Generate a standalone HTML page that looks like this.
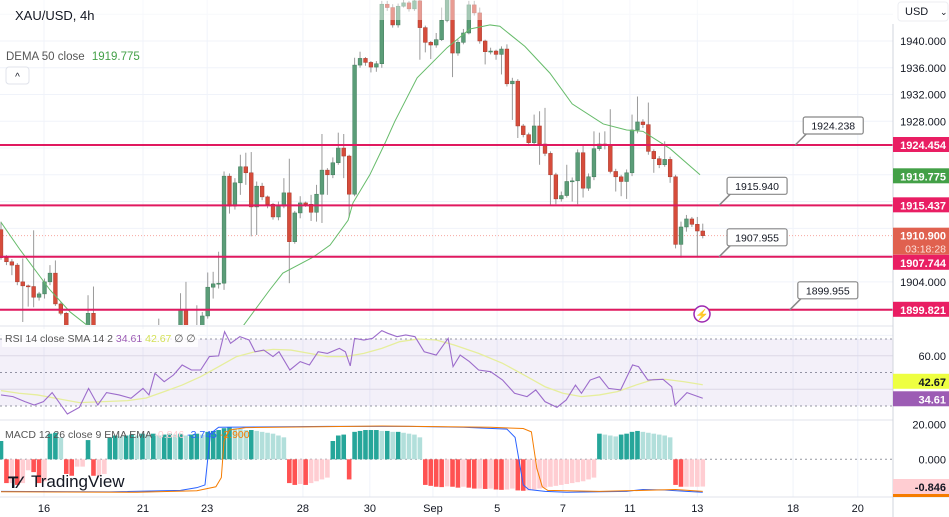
<!DOCTYPE html>
<html><head><meta charset="utf-8"><style>
html,body{margin:0;padding:0;background:#fff;overflow:hidden}
svg{display:block;font-family:"Liberation Sans",sans-serif}
</style></head><body>
<svg id="chart" width="949" height="517" viewBox="0 0 949 517" xmlns="http://www.w3.org/2000/svg">
<defs>
<clipPath id="cMain"><rect x="0" y="0" width="893" height="325"/></clipPath>
<clipPath id="cRsi"><rect x="0" y="327" width="893" height="92"/></clipPath>
<clipPath id="cMacd"><rect x="0" y="421" width="893" height="75"/></clipPath>
</defs>
<g id="grid"></g>
<rect x="0" y="339" width="893" height="67" fill="#7e57c2" fill-opacity="0.09"/>
<g id="main" clip-path="url(#cMain)"></g>
<g id="rsi" clip-path="url(#cRsi)"></g>
<g id="macd" clip-path="url(#cMacd)"></g>
<rect x="0" y="0" width="893" height="20" fill="#fff" fill-opacity="0.45"/>
<line x1="0" y1="326" x2="949" y2="326" stroke="#e0e3eb"/>
<line x1="0" y1="420" x2="949" y2="420" stroke="#e0e3eb"/>
<line x1="0" y1="497" x2="949" y2="497" stroke="#e0e3eb"/>
<rect x="893" y="0" width="56" height="497" fill="#fff"/>
<line x1="893" y1="24" x2="893" y2="517" stroke="#d1d4dc"/>
<g id="axis"></g>
<g id="callouts"></g>
<text x="15" y="20" font-size="13" fill="#131722">XAU/USD, 4h</text>
<text x="6" y="60" font-size="11.5" fill="#555">DEMA 50 close <tspan fill="#43a047" dx="4">1919.775</tspan></text>
<rect x="6" y="67" width="23" height="17" rx="3" fill="#fff" stroke="#e0e3eb"/>
<text x="17.5" y="80" font-size="10" text-anchor="middle" fill="#131722">^</text>
<rect x="2" y="329" width="196" height="18" fill="#fff" fill-opacity="0.8"/>
<text x="5" y="342" font-size="10.5" fill="#555">RSI 14 close SMA 14 2 <tspan fill="#9c5cb4">34.61</tspan> <tspan fill="#d4e157">42.67</tspan> ∅ ∅</text>
<text x="5" y="438" font-size="10.5" fill="#555">MACD 12 26 close 9 EMA EMA <tspan fill="#ffcdd2">-0.846</tspan> <tspan fill="#2962ff">-3.745</tspan> <tspan fill="#f57c00">-2.900</tspan></text>
<g>
<text x="8" y="488" font-size="17" font-weight="bold" fill="#131722">T⁄</text>
<text x="31" y="487" font-size="17" fill="#131722">TradingView</text>
</g>
<rect x="898" y="2" width="50" height="19" rx="3" fill="#fff" stroke="#eceef2"/>
<text x="905" y="15" font-size="11" fill="#131722">USD</text>
<text x="940" y="15" font-size="9" fill="#131722">⌄</text>
<g>
<circle cx="702" cy="314" r="8" fill="#fff" stroke="#9c27b0" stroke-width="1.5"/>
<text x="702" y="318.5" font-size="11" text-anchor="middle" fill="#9c27b0">⚡</text>
</g>
<g id="time"></g>
</svg>
<script>
const closes=[1907.6,1907.0,1906.5,1904.0,1903.4,1903.3,1901.7,1902.2,1904.0,1905.3,
1900.7,1899.3,1896.0,1894.0,1895.5,1896.5,1899.3,1895.5,1893,1891,
1890,1892,1891,1893,1892,1894,1893,1895,1894,1895,
1894,1895,1896,1899.8,1896.5,1895,1896.5,1898.9,1903.2,1903.7,
1903.8,1919.8,1915.3,1918.8,1921.2,1920.3,1915.2,1918.3,1916.7,1915.6,
1913.7,1915.3,1917.3,1910.0,1914.3,1915.8,1915.6,1914.4,1917.1,1920.7,
1920.0,1921.8,1924.0,1922.8,1917.1,1936.4,1937.4,1936.8,1936.1,1936.6,
1945.5,1945.0,1942.4,1945.2,1945.7,1944.8,1946.0,1942.0,1939.8,1939.4,
1940.2,1943.1,1946.5,1938.2,1939.8,1941.2,1945.4,1944.2,1940.0,1938.4,
1938.5,1938.0,1938.8,1933.6,1934.0,1927.3,1926.0,1924.8,1927.3,1924.6,
1923.2,1920.0,1916.4,1916.9,1919.0,1919.1,1923.3,1918.0,1919.7,1923.9,
1924.6,1924.4,1920.5,1919.7,1919.0,1920.3,1926.7,1927.9,1927.5,1923.5,
1922.4,1921.5,1922.3,1919.7,1909.6,1912.2,1913.4,1912.6,1911.6,1910.9];
const firstOpen=1911.8;
const highs=[1913,1908,1907.4,1906.8,1907.5,1903.6,1911.7,1902.5,1904.5,1906.5,
1907.2,1901,1899.5,1896.5,1896,1897,1902,1903.3,1896,1894,
1892,1893,1892.5,1894,1893.5,1895,1894.5,1896,1895.5,1898.5,
1895.5,1896,1897,1902.3,1904,1897,1900.5,1899.5,1905.4,1905.5,
1908.5,1920.5,1920.2,1919.5,1923,1923.3,1923.4,1919,1918.8,1916.9,
1915.8,1916,1919.5,1922.4,1914.6,1916.8,1916,1917,1918.5,1926.1,
1921,1922.6,1926.3,1926.1,1923,1937.5,1938.4,1937.6,1937,1937,
1946,1946,1945.5,1945.6,1946.2,1946,1946.5,1946.3,1942.3,1940,
1941.2,1945,1947,1946.6,1940.2,1941.8,1946,1946,1945,1940.2,
1939,1938.7,1939.2,1939.5,1934.5,1934.3,1927.6,1926.3,1929,1929.5,
1930,1923.5,1920.3,1917.5,1921.5,1919.6,1923.8,1924.5,1920.2,1926.5,
1926.3,1926.5,1929.8,1920.9,1920,1920.8,1929,1931.7,1928.3,1930.8,
1923.8,1922.8,1925,1922.7,1920,1913,1914,1913.7,1913.7,1912.7];
const lows=[1907.3,1906.5,1905,1903.5,1898,1900.3,1900.2,1901.2,1901.5,1903.5,
1900.4,1899,1895,1893,1893,1894.5,1896,1895,1892,1890,
1889,1889.5,1890,1890.5,1891,1891.5,1892,1892.5,1893,1893.5,
1893,1893.5,1894.5,1895,1895,1894,1894,1896,1898.5,1901.5,
1903,1902.8,1914.2,1914.8,1917,1918.5,1910.8,1911,1916.2,1915,
1913.3,1913.2,1915,1903.8,1909.7,1913.5,1915.2,1913.1,1913,1912.8,
1917,1919.5,1921.5,1919.5,1913.6,1916.8,1936,1936.3,1935.3,1935.4,
1936,1944.5,1942,1942,1945,1944.4,1944.5,1937.2,1938.3,1937.3,
1939,1940,1942.8,1934.6,1937.8,1939.5,1941,1943.8,1939.6,1936.5,
1938,1937.2,1935,1933.2,1928.2,1925.5,1925.6,1924.3,1924.5,1921.5,
1922.8,1915.5,1915.6,1916,1916.6,1916,1915.6,1916.6,1917.6,1919.2,
1923.6,1923.8,1920.2,1917.5,1916.8,1916.4,1919.8,1926.2,1927,1923,
1920.3,1921,1921.2,1918.8,1909,1907.6,1911.5,1912.2,1907.8,1910.5];
const demaIdx=[0,3.5,9,12.7,16,22,35,44.5,49.4,51.8,57.4,60.5,63.8,64.7,67.8,70.6,72.4,76.5,82,86.2,89.9,91.7,96.3,100.9,105,110.7,115,118,123,128.5];
const demaVal=[1912.9,1908.8,1902.8,1899.5,1897.4,1894,1894,1897.4,1902.8,1905.3,1907.7,1909.5,1913.2,1915.8,1920,1924.75,1928,1934.5,1939,1941.8,1942.4,1942.2,1939.2,1935.2,1930.6,1927.6,1926.7,1926.5,1923.9,1920];
const levels=[1924.454,1915.437,1907.744,1899.821];
const levelLabelShift=[0,0,6,0];
const calloutVals=[1924.238,1915.940,1907.955,1899.955];
const calloutIdx=[146,132,132,145];
const priceTicks=[1940,1936,1932,1928,1904];
const rsiIdx=[0,2.2,4.4,6.1,7.8,9.4,12.2,14.4,16.1,17.8,19.4,21.7,23.9,26.1,27.2,28.3,30,31.7,33.3,35,36.7,38.3,40,41.1,42.2,43.9,45.6,46.7,48.3,50,51.1,53.1,55,56.7,58.3,60,62.2,63.3,64.2,65,66.7,68.3,70,71.1,72.8,74.4,76.1,77.8,80,82.2,83.1,84.4,86.1,87.8,90,92.2,94.4,96.7,98.3,100,102.2,103.9,105.6,106.7,108.3,110,111.7,113.9,116.1,117.2,118.9,121.7,123.3,123.9,126.1,129];
const rsiVal=[36.6,35.6,32.6,30.6,32.6,38,25.2,29.2,40.5,30.6,38,36.6,34.6,40.5,36.6,49.5,44.5,48.5,54.5,51.5,51.5,59.5,59.9,74.4,67.4,71.4,69.4,62.4,63.4,59.5,62.4,51.5,56.5,54.5,62.4,61.4,64.4,62.4,53.9,70.4,69.4,70.4,75,73.4,71.4,72.4,71.4,62.4,60.4,70.4,53.5,60.4,56.5,51.5,50.5,45.5,37.6,35.6,39.6,32.6,29.2,33.6,42.5,37.6,45.5,47.5,40.5,39.6,54.5,53.5,45.5,45.9,41.5,30.6,38,34.61];
const smaIdx=[0,3.3,6.7,10,14.4,18.9,23.3,26.7,30,33.3,36.7,40,43.3,46.7,50,53.3,56.7,60,63.3,66.7,70,73.3,76.7,80,83.3,87.8,92.2,96.7,100,103.3,106.7,110,113.3,116.7,120,122.2,125.6,129];
const smaVal=[39.2,37.6,36.6,34.6,32,32.6,33.2,34.8,38.6,42.5,47.5,53.5,59.5,62.4,63.8,63.4,61.4,59.5,59.5,61.4,64.4,68.4,70,69.4,66.4,61.4,55.5,47.5,41.5,37.6,35.6,36.6,38.6,42.5,45.9,45.9,44.5,42.67];
const hist=[10,-13,-13,-14,-13,-6,-7,-13,-12,14,14.5,12,-8,-9,-4,-4,10.5,-9,-9,-8,
12,13,12.5,13,13.5,13,14,13.5,14,13,13.5,14,13.5,14,13,13.5,14,13.5,15,15.5,16,17,17.5,17,16.5,16,16,15.5,15,14.5,14,13,12,
-13,-14,-13.5,-14,-13,-12,-11,-10,10,13,13.5,-11,
15,15.5,16,16,16,15.5,15.5,15,15,14.5,14,13.5,12,
-14,-14.5,-15,-15.2,-14.8,-15,-15.5,-15,-15.5,-16,-16,-16.2,-16,-16.5,-16.7,-16.5,-16,-17,-17.2,-17,-16.5,-16,-15.5,-15,-14.5,-14,-13.5,-13,-12.5,-12,-11,-10,
14,13.5,13,12.5,13.5,14,15,15.5,15,14.5,14,13.5,13,12,
-14,-15,-15,-15,-15,-14.9];
const macdIdx=[0,20,33,36,37.5,38.5,40,60,75,85,93,94.5,96,97,100,104,115,118,122,126,129];
const macdVal=[-17.5,-17.8,-17,-15.5,-14,14,17.5,18,18,17.5,16.5,12,-14,-16.5,-17.5,-18,-17.5,-16.5,-16.8,-17.5,-18];
const sigIdx=[0,25,36,39.5,40.5,41,42,45,70,90,96,97.5,98.5,99.5,100.5,110,118,124,129];
const sigVal=[-17.7,-18,-17.2,-15,-10,10,16,17.3,18.2,17.5,16.8,15,-5,-15,-17,-17.5,-17,-16.5,-17.5];
const dateLabels=["16","21","23","28","30","Sep","5","7","11","13","18","20"];
const dateIdx=[7.9,26.1,37.9,55.5,67.8,79.4,91.2,103.3,115.6,128,145.6,157.5];

const NS="http://www.w3.org/2000/svg";
const xOf=i=>1+i*5.44;
const yP=p=>41+(1940-p)*6.69;
const yR=v=>339+(70-v)*1.675;
const yM=v=>459.3-v*1.83;
function mk(tag,parent,attrs){const e=document.createElementNS(NS,tag);for(const k in attrs)e.setAttribute(k,attrs[k]);parent.appendChild(e);return e;}
const G=document.getElementById('grid'),M=document.getElementById('main'),R=document.getElementById('rsi'),D=document.getElementById('macd'),A=document.getElementById('axis'),C=document.getElementById('callouts'),T=document.getElementById('time');

for(let p=1944;p>=1896;p-=4){const l=mk('line',G,{x1:0,x2:893,y1:yP(p),y2:yP(p),stroke:'#f0f3fa'});

}
dateIdx.forEach((d,k)=>{const l=mk('line',G,{x1:xOf(d),x2:xOf(d),y1:0,y2:497,stroke:'#f0f3fa'});


const t=mk('text',T,{x:xOf(d),y:512,'font-size':11,'text-anchor':'middle',fill:'#131722'});t.textContent=dateLabels[k];

});
[60,40].forEach(v=>{const l=mk('line',G,{x1:0,x2:893,y1:yR(v),y2:yR(v),stroke:'#e6e6ec'});

});
[70,50,30].forEach(v=>{const l=mk('line',G,{x1:0,x2:893,y1:yR(v),y2:yR(v),stroke:'#9598a1','stroke-dasharray':'2 3'});

});
{const l=mk('line',G,{x1:0,x2:893,y1:yM(0),y2:yM(0),stroke:'#9598a1','stroke-dasharray':'2 3'});

}

{const l=mk('line',M,{x1:0,x2:893,y1:yP(closes[closes.length-1]),y2:yP(closes[closes.length-1]),stroke:'#f7a8a0','stroke-dasharray':'1 2'});

}

closes.forEach((c,i)=>{const o=i?closes[i-1]:firstOpen;const up=c>=o;const x=xOf(i);
const w=mk('line',M,{x1:x,x2:x,y1:yP(highs[i]),y2:yP(lows[i]),stroke:'#9a9a9a','stroke-width':1});


const top=yP(Math.max(o,c)),bot=yP(Math.min(o,c));
const b=mk('rect',M,{x:x-1.9,y:top,width:3.8,height:Math.max(1,bot-top),fill:up?'#5b9d78':'#d64c3b',stroke:up?'#3f7a59':'#a83a2d','stroke-width':0.5});

});

{const p=mk('polyline',M,{points:demaIdx.map((d,k)=>xOf(d)+','+yP(demaVal[k])).join(' '),fill:'none',stroke:'#66bb6a','stroke-width':1});

}

levels.forEach(v=>{const l=mk('line',M,{x1:0,x2:893,y1:yP(v),y2:yP(v),stroke:'#e0195f','stroke-width':2});

});

calloutVals.forEach((v,k)=>{const px=xOf(calloutIdx[k]);const py=yP(levels[k]);const bx=px+8,by=py-28;
const l=mk('line',C,{x1:px,y1:py,x2:bx+4,y2:by+16,stroke:'#888','stroke-width':1.5});


const r=mk('rect',C,{x:bx,y:by,width:60,height:17,rx:2,fill:'#fff',stroke:'#888','stroke-width':1.2});


const t=mk('text',C,{x:bx+30,y:by+12.5,'font-size':10.5,'text-anchor':'middle',fill:'#131722'});t.textContent=v.toFixed(3);

});

{const s=mk('polyline',R,{points:smaIdx.map((d,k)=>xOf(d)+','+yR(smaVal[k])).join(' '),fill:'none',stroke:'#e6ee9c','stroke-width':1.3});


const p=mk('polyline',R,{points:rsiIdx.map((d,k)=>xOf(d)+','+yR(rsiVal[k])).join(' '),fill:'none',stroke:'#9c6ccb','stroke-width':1.1});

}

hist.forEach((h,i)=>{const prev=i?hist[i-1]:h;let col;
if(h>=0)col=(h>=prev)?'#26a69a':'#b2dfdb';else col=(h<prev)?'#ff5252':'#ffcdd2';
const y0=yM(0),y1=yM(h);
const b=mk('rect',D,{x:xOf(i)-2.3,y:Math.min(y0,y1),width:4.6,height:Math.abs(y1-y0),fill:col});

});
{const m=mk('polyline',D,{points:macdIdx.map((d,k)=>xOf(d)+','+yM(macdVal[k])).join(' '),fill:'none',stroke:'#2962ff','stroke-width':1});


const s=mk('polyline',D,{points:sigIdx.map((d,k)=>xOf(d)+','+yM(sigVal[k])).join(' '),fill:'none',stroke:'#f57c00','stroke-width':1});

}

function lab(y,txt,bg,fg,name){if(bg){const r=mk('rect',A,{x:893,y:y-8,width:56,height:15,fill:bg});

}
const t=mk('text',A,{x:946,y:y+4,'font-size':11,'text-anchor':'end',fill:fg,'font-weight':bg?'bold':'normal'});t.textContent=txt;

}
priceTicks.forEach(p=>lab(yP(p),p.toFixed(3),null,'#131722','price-tick'));
lab(yP(1919.775),'1919.775','#43a047','#fff','dema-label');
{const y=yP(closes[closes.length-1]);const r=mk('rect',A,{x:893,y:y-8,width:56,height:27,fill:'#e0614f'});


const t=mk('text',A,{x:946,y:y+4,'font-size':11,'text-anchor':'end',fill:'#fff','font-weight':'bold'});t.textContent=closes[closes.length-1].toFixed(3);


const t2=mk('text',A,{x:946,y:y+17,'font-size':10.5,'text-anchor':'end',fill:'#fde0dc'});t2.textContent='03:18:28';

}
levels.forEach((v,k)=>lab(yP(v)+levelLabelShift[k],v.toFixed(3),'#e91e63','#fff','level-label'));
lab(yR(60),'60.00',null,'#131722','rsi-tick');
lab(yR(42.67)-3,'42.67','#eeff41','#131722','rsi-sma-label');
lab(yR(34.61)+1,'34.61','#9c5cb4','#fff','rsi-label');
lab(yM(20)+2,'20.000',null,'#131722','macd-tick');
lab(yM(0),'0.000',null,'#131722','macd-tick');
lab(487,'-0.846','#ffcdd2','#131722','macd-hist-label');
{const r=mk('rect',A,{x:893,y:494,width:56,height:3,fill:'#f57c00'});

}
</script>
</body></html>
